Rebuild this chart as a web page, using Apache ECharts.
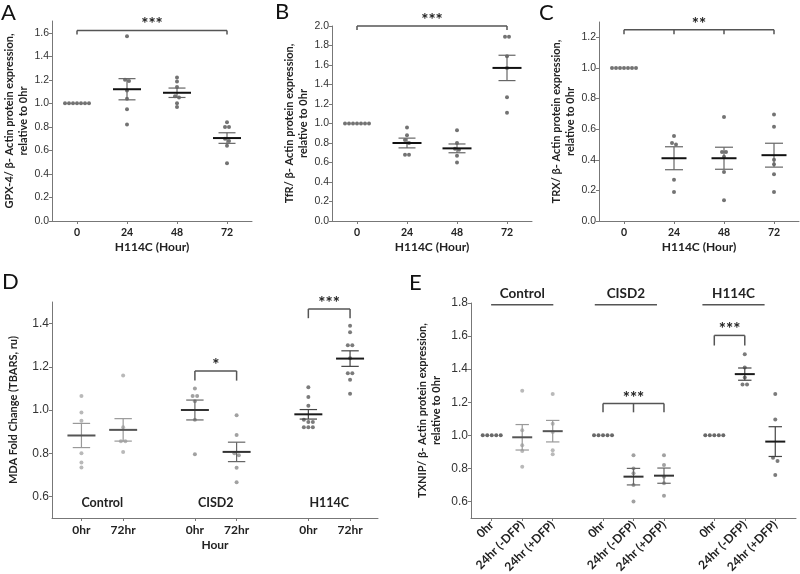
<!DOCTYPE html>
<html>
<head>
<meta charset="utf-8">
<script src="https://cdn.jsdelivr.net/npm/echarts@6/dist/echarts.min.js"></script>
<style>
html, body { margin: 0; padding: 0; background: #fff; }
#chart { width: 800px; height: 574px; }
</style>
</head>
<body>
<div id="chart"></div>
<script>
// ---- data ----
const hourLabels = ['0', '24', '48', '72']

// A: GPX-4 / b-actin
const gpx4Dots = [
  [1, 1, 1, 1, 1, 1, 1],
  [1.57, 1.20, 1.19, 1.11, 1.04, 0.95, 0.82],
  [1.22, 1.185, 1.14, 1.06, 1.05, 1.00, 0.97],
  [0.84, 0.80, 0.80, 0.70, 0.68, 0.64, 0.49]
]
const gpx4Mean = [null, 1.12, 1.09, 0.705]
const gpx4Sem = [null, 0.09, 0.04, 0.045]
const gpx4Ticks = [0, 0.2, 0.4, 0.6, 0.8, 1.0, 1.2, 1.4, 1.6]

// B: TfR / b-actin
const tfrDots = [
  [1, 1, 1, 1, 1, 1, 1],
  [0.96, 0.88, 0.83, 0.80, 0.68, 0.68],
  [0.93, 0.80, 0.74, 0.73, 0.67, 0.60],
  [1.89, 1.89, 1.69, 1.57, 1.27, 1.11]
]
const tfrMean = [null, 0.80, 0.745, 1.57]
const tfrSem = [null, 0.05, 0.045, 0.13]
const tfrTicks = [0, 0.2, 0.4, 0.6, 0.8, 1.0, 1.2, 1.4, 1.6, 1.8, 2.0]

// C: TRX / b-actin
const trxDots = [
  [1, 1, 1, 1, 1, 1, 1],
  [0.555, 0.51, 0.50, 0.27, 0.19],
  [0.68, 0.45, 0.45, 0.42, 0.32, 0.135],
  [0.695, 0.615, 0.40, 0.37, 0.305, 0.19]
]
const trxMean = [null, 0.41, 0.41, 0.43]
const trxSem = [null, 0.075, 0.072, 0.078]
const trxTicks = [0, 0.2, 0.4, 0.6, 0.8, 1.0, 1.2]

// D: MDA fold change
const mdaGroups = ['Control', 'CISD2', 'H114C']
const mdaTimes = ['0hr', '72hr']
const mdaDots = [
  [1.065, 0.988, 0.95, 0.80, 0.757, 0.734],
  [1.16, 0.92, 0.855, 0.855, 0.805],
  [1.10, 1.065, 1.065, 1.04, 0.955, 0.795],
  [0.976, 0.884, 0.80, 0.79, 0.733, 0.665],
  [1.105, 1.06, 1.02, 0.955, 0.945, 0.945, 0.92, 0.92, 0.92],
  [1.39, 1.36, 1.30, 1.30, 1.24, 1.17, 1.17, 1.14, 1.075]
]
const mdaMean = [0.882, 0.908, 1.0, 0.806, 0.98, 1.238]
const mdaSem = [0.056, 0.052, 0.046, 0.045, 0.022, 0.036]
const mdaTicks = [0.6, 0.8, 1.0, 1.2, 1.4]

// E: TXNIP / b-actin
const txnipGroups = ['Control', 'CISD2', 'H114C']
const txnipConds = ['0hr', '24hr (-DFP)', '24hr (+DFP)']
const txnipDots = [
  [1, 1, 1, 1, 1],
  [1.27, 1.03, 0.94, 0.905, 0.81],
  [1.25, 1.07, 1.02, 0.91, 0.885],
  [1, 1, 1, 1, 1],
  [0.88, 0.80, 0.77, 0.70, 0.60],
  [0.88, 0.82, 0.75, 0.71, 0.635],
  [1, 1, 1, 1, 1],
  [1.49, 1.41, 1.35, 1.307, 1.307],
  [1.25, 1.095, 0.865, 0.845, 0.76]
]
const txnipMean = [null, 0.988, 1.025, null, 0.75, 0.756, null, 1.37, 0.962]
const txnipSem = [null, 0.077, 0.065, null, 0.05, 0.046, null, 0.037, 0.09]
const txnipTicks = [0.6, 0.8, 1.0, 1.2, 1.4, 1.6, 1.8]

// significance brackets (category indexes, bracket level, drop)
const gpx4Sig = [{from: 0, to: 3, mids: [], y: 1.62, drop: 0.035, text: '***'}]
const tfrSig = [{from: 0, to: 3, mids: [], y: 2.0, drop: 0.04, text: '***'}]
const trxSig = [{from: 0, to: 3, mids: [1, 2], y: 1.25, drop: 0.03, text: '**'}]
const mdaSig = [
  {from: 2, to: 3, mids: [], y: 1.181, drop: 0.045, text: '*'},
  {from: 4, to: 5, mids: [], y: 1.468, drop: 0.043, text: '***'}
]
const txnipSig = [
  {from: 3, to: 5, mids: [4], y: 1.192, drop: 0.053, text: '***'},
  {from: 6, to: 7, mids: [], y: 1.604, drop: 0.061, text: '***'}
]

// ---- layout ----
const FONT_B = 'Lato, "Open Sans", sans-serif'
const FONT_T = '"Liberation Sans", Arial, sans-serif'
const GAP_D = 2.72
const GAP_E = 3.65
const abcPos = [0, 1, 2, 3]
const dPos = []
mdaGroups.forEach((g, gi) => mdaTimes.forEach((t, ti) => dPos.push(gi * GAP_D + ti)))
const ePos = []
txnipGroups.forEach((g, gi) => txnipConds.forEach((c, ci) => ePos.push(gi * GAP_E + ci)))

// identical / near values are laid side by side (beeswarm)
function swarm(vals, thr, step) {
  const idx = vals.map((v, i) => i).sort((a, b) => vals[b] - vals[a])
  const off = new Array(vals.length).fill(0)
  let cl = [idx[0]]
  const flush = () => cl.forEach((k, j) => { off[k] = (j - (cl.length - 1) / 2) * step })
  for (let i = 1; i < idx.length; i++) {
    if (vals[cl[cl.length - 1]] - vals[idx[i]] < thr) cl.push(idx[i])
    else { flush(); cl = [idx[i]] }
  }
  flush()
  return off
}

function dotSeries(gi, pos, dots, thr, step, colorOf) {
  const data = []
  dots.forEach((vals, c) => {
    const off = swarm(vals, thr, step)
    vals.forEach((v, k) => data.push({
      value: [pos[c], v],
      symbolOffset: [off[k], 0],
      itemStyle: {color: colorOf(c, v)}
    }))
  })
  return {
    type: 'scatter', xAxisIndex: gi, yAxisIndex: gi, symbol: 'circle', symbolSize: 4,
    data, z: 2, silent: true
  }
}

function errSeries(gi, pos, mean, sem, meanHalf, capHalf, meanColorOf, barColorOf) {
  const items = []
  mean.forEach((m, c) => { if (m != null) items.push({c, value: [pos[c], m, sem[c]]}) })
  return {
    type: 'custom', xAxisIndex: gi, yAxisIndex: gi, z: 3, silent: true,
    data: items.map(d => d.value),
    renderItem(params, api) {
      const c = items[params.dataIndex].c
      const x = api.value(0), m = api.value(1), s = api.value(2)
      const p = api.coord([x, m]), hi = api.coord([x, m + s])[1], lo = api.coord([x, m - s])[1]
      const bar = {stroke: barColorOf(c), lineWidth: 1.2}
      return {type: 'group', children: [
        {type: 'line', shape: {x1: p[0], y1: hi, x2: p[0], y2: lo}, style: bar},
        {type: 'line', shape: {x1: p[0] - capHalf, y1: hi, x2: p[0] + capHalf, y2: hi}, style: bar},
        {type: 'line', shape: {x1: p[0] - capHalf, y1: lo, x2: p[0] + capHalf, y2: lo}, style: bar},
        {type: 'line', shape: {x1: p[0] - meanHalf, y1: p[1], x2: p[0] + meanHalf, y2: p[1]},
          style: {stroke: meanColorOf(c), lineWidth: 2}}
      ]}
    }
  }
}

function sigSeries(gi, pos, sig) {
  return {
    type: 'custom', xAxisIndex: gi, yAxisIndex: gi, z: 4, silent: true,
    data: sig.map(b => [pos[b.from], b.y]),
    renderItem(params, api) {
      const b = sig[params.dataIndex]
      const top = api.coord([0, b.y])[1], bot = api.coord([0, b.y - b.drop])[1]
      const xs = [b.from].concat(b.mids, [b.to]).map(c => api.coord([pos[c], b.y])[0])
      const st = {stroke: '#555', lineWidth: 1.5}
      const kids = [{type: 'line', shape: {x1: xs[0], y1: top, x2: xs[xs.length - 1], y2: top}, style: st}]
      xs.forEach(x => kids.push({type: 'line', shape: {x1: x, y1: top, x2: x, y2: bot}, style: st}))
      kids.push({type: 'text', style: {
        text: b.text, x: (xs[0] + xs[xs.length - 1]) / 2, y: top + 3,
        align: 'center', verticalAlign: 'bottom',
        font: 'bold 17px ' + FONT_B, fill: '#222'
      }})
      return {type: 'group', children: kids}
    }
  }
}

function yAxisCfg(gi, min, max, ticks, name, nameGap, fontSize) {
  return {
    type: 'value', gridIndex: gi, min, max,
    name, nameLocation: 'middle', nameGap,
    nameTextStyle: {fontFamily: FONT_B, fontWeight: 'bold', fontSize: 11, color: '#222', lineHeight: 14},
    axisLine: {show: true, onZero: false, lineStyle: {color: '#777'}},
    axisTick: {show: true, length: 3, lineStyle: {color: '#777'}, customValues: ticks},
    axisLabel: {fontFamily: FONT_T, fontSize, color: '#333', margin: 3, customValues: ticks,
      formatter: v => v.toFixed(1)},
    splitLine: {show: false}
  }
}

function xAxisCfg(gi, min, max, pos, labels, extra) {
  return Object.assign({
    type: 'value', gridIndex: gi, min, max,
    axisLine: {show: true, onZero: false, lineStyle: {color: '#777'}},
    axisTick: {show: true, length: 3, lineStyle: {color: '#777'}, customValues: pos},
    axisLabel: {fontFamily: FONT_B, fontWeight: 'bold', fontSize: 10.5, color: '#222', margin: 6,
      customValues: pos,
      formatter: v => labels[pos.findIndex(p => Math.abs(p - v) < 1e-6)]},
    splitLine: {show: false},
    nameLocation: 'middle',
    nameTextStyle: {fontFamily: FONT_B, fontWeight: 'bold', fontSize: 12, color: '#222'}
  }, extra || {})
}

const dark = () => '#505050'
const dDot = ['#a8a8a8', '#8a8a8a', '#5a5a5a']
const dMean = ['#555', '#333', '#1a1a1a']
const dBar = ['#999', '#666', '#444']

const dLabels = []
mdaGroups.forEach(g => mdaTimes.forEach(t => dLabels.push(t)))
const eLabels = []
txnipGroups.forEach(g => txnipConds.forEach(c => eLabels.push(c)))

// group captions of D and E
const dCaption = {
  type: 'custom', xAxisIndex: 3, yAxisIndex: 3, silent: true,
  data: mdaGroups.map((g, gi) => [gi * GAP_D + 0.5, 0.57]),
  renderItem(params, api) {
    const p = api.coord([api.value(0), api.value(1)])
    return {type: 'text', style: {text: mdaGroups[params.dataIndex], x: p[0], y: p[1],
      align: 'center', verticalAlign: 'middle', font: 'bold 12.5px ' + FONT_B, fill: '#222'}}
  }
}
const headerShift = [0, -0.25, -0.37]
const eHeader = {
  type: 'custom', xAxisIndex: 4, yAxisIndex: 4, silent: true,
  data: txnipGroups.map((g, gi) => [gi * GAP_E + 1 + headerShift[gi], 1.79]),
  renderItem(params, api) {
    const p = api.coord([api.value(0), api.value(1)])
    const l = api.coord([api.value(0) - 1.02, 1.79])[0], r = api.coord([api.value(0) + 1.02, 1.79])[0]
    return {type: 'group', children: [
      {type: 'line', shape: {x1: l, y1: p[1], x2: r, y2: p[1]}, style: {stroke: '#555', lineWidth: 1.5}},
      {type: 'text', style: {text: txnipGroups[params.dataIndex], x: p[0], y: p[1] - 11,
        align: 'center', verticalAlign: 'middle', font: 'bold 13.5px ' + FONT_B, fill: '#222'}}
    ]}
  }
}

const letters = [['A', 1, 2], ['B', 275, 1], ['C', 539, 2], ['D', 2, 271], ['E', 409, 272]]

const option = {
  animation: false,
  backgroundColor: '#fff',
  grid: [
    {left: 52, top: 21, width: 200, height: 200, outerBoundsMode: 'none'},
    {left: 332, top: 26, width: 200, height: 195, outerBoundsMode: 'none'},
    {left: 599, top: 22, width: 200, height: 199, outerBoundsMode: 'none'},
    {left: 52, top: 302, width: 326, height: 216, outerBoundsMode: 'none'},
    {left: 471, top: 303, width: 325, height: 215, outerBoundsMode: 'none'}
  ],
  xAxis: [
    xAxisCfg(0, -0.5, 3.5, abcPos, hourLabels, {name: 'H114C (Hour)', nameGap: 20}),
    xAxisCfg(1, -0.5, 3.5, abcPos, hourLabels, {name: 'H114C (Hour)', nameGap: 20}),
    xAxisCfg(2, -0.5, 3.5, abcPos, hourLabels, {name: 'H114C (Hour)', nameGap: 20}),
    xAxisCfg(3, -0.706, 7.11, dPos, dLabels, {name: 'Hour', nameGap: 21}),
    xAxisCfg(4, -0.68, 9.98, ePos, eLabels)
  ],
  yAxis: [
    yAxisCfg(0, 0, 1.7, gpx4Ticks, 'GPX-4/ β- Actin protein expression,\nrelative to 0hr', 19, 10.5),
    yAxisCfg(1, 0, 2.0, tfrTicks, 'TfR/ β- Actin protein expression,\nrelative to 0hr', 21, 10.5),
    yAxisCfg(2, 0, 1.3, trxTicks, 'TRX/ β- Actin protein expression,\nrelative to 0hr', 18, 10.5),
    yAxisCfg(3, 0.5, 1.5, mdaTicks, 'MDA Fold Change (TBARS, ru)', 32, 12),
    yAxisCfg(4, 0.5, 1.8, txnipTicks, 'TXNIP/ β- Actin protein expression,\nrelative to 0hr', 28, 12)
  ],
  graphic: letters.map(([t, x, y]) => ({
    type: 'text', left: x, top: y, silent: true,
    style: {text: t, font: '22px ' + FONT_B, fill: '#111'}
  })),
  series: [
    dotSeries(0, abcPos, gpx4Dots, 0.03, 4, dark),
    errSeries(0, abcPos, gpx4Mean, gpx4Sem, 14, 8.5, () => '#111', () => '#666'),
    sigSeries(0, abcPos, gpx4Sig),

    dotSeries(1, abcPos, tfrDots, 0.036, 4, dark),
    errSeries(1, abcPos, tfrMean, tfrSem, 14.5, 8.5, () => '#111', () => '#666'),
    sigSeries(1, abcPos, tfrSig),

    dotSeries(2, abcPos, trxDots, 0.023, 4, dark),
    errSeries(2, abcPos, trxMean, trxSem, 12.5, 9, () => '#111', () => '#666'),
    sigSeries(2, abcPos, trxSig),

    dotSeries(3, dPos, mdaDots, 0.016, 4.5, c => dDot[Math.floor(c / 2)]),
    errSeries(3, dPos, mdaMean, mdaSem, 14, 8.7, c => dMean[Math.floor(c / 2)], c => dBar[Math.floor(c / 2)]),
    sigSeries(3, dPos, mdaSig),
    dCaption,

    dotSeries(4, ePos, txnipDots, 0.021, 4.5, c => (c % 3 === 0 ? '#444' : dDot[Math.floor(c / 3)])),
    errSeries(4, ePos, txnipMean, txnipSem, 10, 6.7, c => dMean[Math.floor(c / 3)], c => dBar[Math.floor(c / 3)]),
    sigSeries(4, ePos, txnipSig),
    eHeader
  ]
}
option.xAxis[4].axisLabel.rotate = 45
option.xAxis[4].axisLabel.fontSize = 12
option.xAxis[4].axisLabel.margin = 5
option.xAxis[3].axisLabel.fontSize = 12

const chart = echarts.init(document.getElementById('chart'))
chart.setOption(option)
window.addEventListener('resize', () => chart.resize())
</script>
</body>
</html>
